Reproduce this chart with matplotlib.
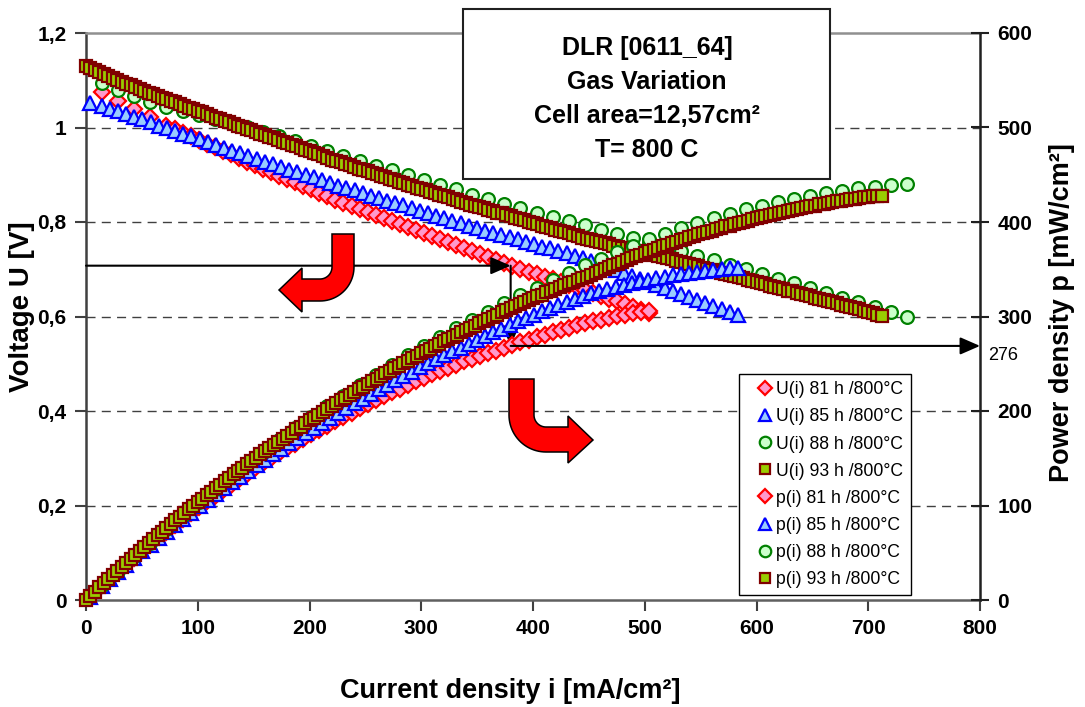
import numpy as np
import matplotlib
matplotlib.use("Agg")
import matplotlib.pyplot as plt
from matplotlib.path import Path
from matplotlib.patches import PathPatch, Rectangle
from matplotlib.ticker import FuncFormatter

plt.rcParams['font.family'] = ['Liberation Sans', 'DejaVu Sans']

# ---------------------------------------------------------------- data
# current density [mA/cm2] and cell voltage [V] of each polarisation curve
i_81h = [14.4, 28.8, 43.2, 57.6, 72.0, 79.2, 86.4, 93.6, 100.8, 108.0, 115.2, 122.4,
         129.6, 136.8, 144.0, 151.2, 158.4, 165.6, 172.8, 180.0, 187.2, 194.4, 201.6,
         208.8, 216.0, 223.2, 230.4, 237.6, 244.8, 252.0, 259.2, 266.4, 273.6, 280.8,
         288.0, 295.2, 302.4, 309.6, 316.8, 324.0, 331.2, 338.4, 345.6, 352.8, 360.0,
         367.2, 374.4, 381.6, 388.8, 396.0, 403.2, 410.4, 417.6, 424.8, 432.0, 439.2,
         446.4, 453.6, 460.8, 468.0, 475.2, 482.4, 489.6, 496.8, 504.0]
u_81h = [1.075, 1.056, 1.039, 1.022, 1.003, 0.996, 0.988, 0.981, 0.973, 0.966, 0.958, 0.951,
         0.943, 0.936, 0.928, 0.921, 0.913, 0.906, 0.898, 0.891, 0.884, 0.876, 0.869,
         0.861, 0.854, 0.847, 0.841, 0.834, 0.828, 0.822, 0.815, 0.809, 0.803, 0.796,
         0.790, 0.784, 0.777, 0.771, 0.765, 0.758, 0.752, 0.746, 0.739, 0.733, 0.726,
         0.719, 0.713, 0.706, 0.701, 0.695, 0.690, 0.684, 0.679, 0.673, 0.667, 0.662,
         0.656, 0.650, 0.644, 0.638, 0.632, 0.626, 0.620, 0.613, 0.607]

i_85h = [3.5, 14.0, 21.3, 28.6, 35.9, 43.2, 50.5, 57.8, 65.1, 72.4, 79.7, 87.0, 94.3,
         101.6, 108.9, 116.2, 123.5, 130.8, 138.1, 145.4, 152.7, 160.0, 167.3, 174.6,
         181.9, 189.2, 196.5, 203.8, 211.1, 218.4, 225.7, 233.0, 240.3, 247.6, 254.9,
         262.2, 269.5, 276.8, 284.1, 291.4, 298.7, 306.0, 313.3, 320.6, 327.9, 335.2,
         342.5, 349.8, 357.1, 364.4, 371.7, 379.0, 386.3, 393.6, 400.9, 408.2, 415.5,
         422.8, 430.1, 437.4, 444.7, 452.0, 459.3, 466.6, 473.9, 481.2, 488.5, 495.8,
         503.1, 510.4, 517.7, 525.0, 532.3, 539.6, 546.9, 554.2, 561.5, 568.8, 576.1,
         583.4]
u_85h = [1.051, 1.045, 1.040, 1.034, 1.028, 1.023, 1.017, 1.011, 1.004, 0.998, 0.993, 0.986,
         0.981, 0.975, 0.969, 0.963, 0.957, 0.951, 0.945, 0.939, 0.934, 0.928, 0.922,
         0.917, 0.911, 0.906, 0.900, 0.895, 0.889, 0.883, 0.877, 0.872, 0.867, 0.861,
         0.856, 0.851, 0.845, 0.840, 0.835, 0.829, 0.824, 0.819, 0.813, 0.808, 0.803,
         0.797, 0.792, 0.787, 0.782, 0.777, 0.772, 0.768, 0.763, 0.758, 0.753, 0.748,
         0.744, 0.739, 0.734, 0.729, 0.724, 0.718, 0.712, 0.705, 0.699, 0.692, 0.686,
         0.680, 0.674, 0.667, 0.661, 0.655, 0.648, 0.642, 0.635, 0.629, 0.622, 0.616,
         0.609, 0.603]

i_88h = [14.4, 28.8, 43.2, 57.6, 72.0, 86.4, 100.8, 115.2, 129.6, 144.0, 158.4, 172.8,
         187.2, 201.6, 216.0, 230.4, 244.8, 259.2, 273.6, 288.0, 302.4, 316.8, 331.2,
         345.6, 360.0, 374.4, 388.8, 403.2, 417.6, 432.0, 446.4, 460.8, 475.2, 489.6,
         504.0, 518.4, 532.8, 547.2, 561.6, 576.0, 590.4, 604.8, 619.2, 633.6, 648.0,
         662.4, 676.8, 691.2, 705.6, 720.0, 734.4]
u_88h = [1.094, 1.079, 1.066, 1.053, 1.044, 1.035, 1.026, 1.018, 1.009, 1.001, 0.991, 0.981,
         0.971, 0.961, 0.950, 0.939, 0.929, 0.919, 0.909, 0.899, 0.889, 0.879, 0.869,
         0.858, 0.848, 0.839, 0.829, 0.820, 0.811, 0.802, 0.793, 0.784, 0.775, 0.766,
         0.757, 0.748, 0.738, 0.729, 0.720, 0.710, 0.700, 0.690, 0.680, 0.670, 0.660,
         0.650, 0.640, 0.630, 0.620, 0.610, 0.600]

# 93 h curve: current steps of 4 mA/cm2 from 0 to 712 mA/cm2
i_93h = list(range(0, 713, 4))
u_93h = [1.130, 1.126, 1.121, 1.117, 1.113, 1.108, 1.104, 1.100, 1.096, 1.093,
         1.089, 1.085, 1.081, 1.078, 1.074, 1.071, 1.067, 1.063, 1.060, 1.056,
         1.053, 1.049, 1.046, 1.042, 1.039, 1.035, 1.032, 1.028, 1.025, 1.021,
         1.018, 1.014, 1.011, 1.007, 1.004, 1.001, 0.997, 0.994, 0.990, 0.987,
         0.984, 0.980, 0.977, 0.974, 0.970, 0.967, 0.963, 0.960, 0.956, 0.953,
         0.950, 0.946, 0.943, 0.939, 0.936, 0.932, 0.929, 0.926, 0.923, 0.920,
         0.917, 0.913, 0.910, 0.907, 0.904, 0.901, 0.898, 0.895, 0.892, 0.889,
         0.885, 0.882, 0.879, 0.876, 0.873, 0.870, 0.867, 0.864, 0.861, 0.858,
         0.855, 0.852, 0.849, 0.846, 0.843, 0.840, 0.837, 0.834, 0.832, 0.829,
         0.826, 0.823, 0.820, 0.818, 0.815, 0.812, 0.809, 0.806, 0.804, 0.801,
         0.798, 0.795, 0.792, 0.790, 0.787, 0.784, 0.781, 0.778, 0.776, 0.773,
         0.770, 0.767, 0.764, 0.762, 0.760, 0.757, 0.755, 0.753, 0.750, 0.748,
         0.746, 0.744, 0.741, 0.739, 0.737, 0.735, 0.732, 0.730, 0.728, 0.725,
         0.723, 0.721, 0.718, 0.716, 0.713, 0.711, 0.708, 0.706, 0.703, 0.701,
         0.698, 0.696, 0.693, 0.691, 0.688, 0.686, 0.683, 0.681, 0.678, 0.676,
         0.673, 0.671, 0.668, 0.665, 0.663, 0.660, 0.658, 0.655, 0.653, 0.650,
         0.648, 0.645, 0.643, 0.640, 0.638, 0.635, 0.633, 0.630, 0.628, 0.625,
         0.622, 0.620, 0.617, 0.615, 0.612, 0.609, 0.607, 0.604, 0.601]

hours = ["81", "85", "88", "93"]
x_ticks = [0, 100, 200, 300, 400, 500, 600, 700, 800]
u_ticks = [0, 0.2, 0.4, 0.6, 0.8, 1.0, 1.2]
p_ticks = [0, 100, 200, 300, 400, 500, 600]

title_lines = ["DLR [0611_64]", "Gas Variation", "Cell area=12,57cm²", "T= 800 C"]
marked_current = 380        # operating point highlighted by the arrows
marked_power_label = "276"

# ---------------------------------------------------------------- figure
W, H = 1085, 707
fig = plt.figure(figsize=(W / 100, H / 100), dpi=100)
ax = fig.add_axes([86 / W, 1 - 600 / H, (980 - 86) / W, (600 - 33) / H])
ax2 = ax.twinx()

series = [
    (i_81h, u_81h, dict(marker='D', ms=8.0, mfc='#FF99CC', mec='#FF0000')),
    (i_85h, u_85h, dict(marker='^', ms=9.4, mfc='#99CCFF', mec='#0000FF')),
    (i_88h, u_88h, dict(marker='o', ms=9.2, mfc='#CCFFCC', mec='#008000')),
    (i_93h, u_93h, dict(marker='s', ms=8.6, mfc='#99CC00', mec='#800000')),
]

u_handles, p_handles = [], []
for cur, volt, style in series:
    cur = np.asarray(cur, float)
    volt = np.asarray(volt, float)
    h, = ax.plot(cur, volt, ls='none', mew=1.6, clip_on=False, zorder=3, **style)
    u_handles.append(h)
for cur, volt, style in series:
    cur = np.asarray(cur, float)
    volt = np.asarray(volt, float)
    power = cur * volt            # p = U * i  [mW/cm2]
    h, = ax2.plot(cur, power, ls='none', mew=1.6, clip_on=False, zorder=3, **style)
    p_handles.append(h)

ax.set_xlim(0, 800)
ax.set_ylim(0, 1.2)
ax2.set_ylim(0, 600)
ax.set_xticks(x_ticks)
ax.set_yticks(u_ticks)
ax2.set_yticks(p_ticks)
ax.yaxis.set_major_formatter(FuncFormatter(lambda v, _: f"{v:g}".replace('.', ',')))

for v in u_ticks[1:-1]:
    ax.axhline(v, color='#404040', lw=1.0, dashes=(6.5, 4.5), zorder=1)

ax.tick_params(axis='x', direction='out', length=8, width=1.5, color='#404040', pad=6)
ax.tick_params(axis='y', direction='out', length=8, width=1.5, color='#404040', pad=6)
ax2.tick_params(axis='y', direction='inout', length=13, width=1.5, color='#202020', pad=6)
for lab in ax.get_xticklabels() + ax.get_yticklabels() + ax2.get_yticklabels():
    lab.set_fontsize(15)
    lab.set_fontweight('bold')

for name, sp in ax.spines.items():
    sp.set_linewidth(1.8)
ax.spines['left'].set_color('#404040')
ax.spines['bottom'].set_color('#606060')
ax.spines['top'].set_color('#909090')
ax.spines['right'].set_visible(False)
for name in ['left', 'top', 'bottom']:
    ax2.spines[name].set_visible(False)
ax2.spines['right'].set_color('#202020')
ax2.spines['right'].set_linewidth(1.8)

fig.text(510 / W, 1 - 691 / H, "Current density i [mA/cm²]", ha='center', va='center',
         fontsize=19.5, fontweight='bold')
fig.text(22 / W, 1 - 307 / H, "Voltage U [V]", ha='center', va='center', rotation=90,
         fontsize=20, fontweight='bold')
fig.text(1062 / W, 1 - 313 / H, "Power density p [mW/cm²]", ha='center', va='center',
         rotation=90, fontsize=19.5, fontweight='bold')

# legend
labels = [f"U(i) {h} h /800°C" for h in hours] + [f"p(i) {h} h /800°C" for h in hours]
leg = ax2.legend(u_handles + p_handles, labels, loc='upper left',
                 bbox_to_anchor=((739 - 86) / 894, (600 - 374) / 567), borderaxespad=0,
                 fontsize=12.7, frameon=True, fancybox=False, framealpha=1,
                 edgecolor='black', handlelength=2.1, handletextpad=-0.4,
                 borderpad=0.42, labelspacing=0.57, markerscale=0.9)
leg.get_frame().set_linewidth(1.0)
leg.set_zorder(10)

# info box
box = Rectangle((463 / W, 1 - 179 / H), (830 - 463) / W, (179 - 9) / H,
                transform=fig.transFigure, facecolor='white', edgecolor='#202020', lw=1.5,
                zorder=5)
fig.add_artist(box)
for k, line in enumerate(title_lines):
    fig.text(647 / W, 1 - (55 + 33.9 * k) / H, line, ha='center', va='baseline',
             fontsize=18, fontweight='bold', zorder=6)

# arrows from the voltage curve to the power curve of the 81 h measurement
u_mark = float(np.interp(marked_current, i_81h, u_81h))
p_mark = marked_current * u_mark
arrow = dict(arrowstyle='-|>,head_length=0.55,head_width=0.24', color='black', lw=1.5,
             shrinkA=0, shrinkB=0, mutation_scale=22)
ax.annotate("", xy=(marked_current, u_mark), xytext=(0, u_mark), arrowprops=arrow,
            annotation_clip=False, zorder=8)
ax.annotate("", xy=(marked_current, p_mark), xycoords=ax2.transData,
            xytext=(marked_current, u_mark), textcoords=ax.transData, arrowprops=arrow,
            annotation_clip=False, zorder=8)
ax2.annotate("", xy=(800, p_mark), xytext=(marked_current, p_mark), arrowprops=arrow,
             annotation_clip=False, zorder=8)
fig.text(988 / W, 1 - 360 / H, marked_power_label, ha='left', va='baseline', fontsize=13)


# bent red arrows (built in figure pixels, y pointing down)
def to_fig(pts):
    pts = np.asarray(pts, float)
    return np.column_stack([pts[:, 0] / W, 1 - pts[:, 1] / H])


def arc(cx, cy, r, t0, t1, n=24):
    t = np.linspace(t0, t1, n)
    return list(zip(cx + r * np.cos(t), cy + r * np.sin(t)))


def bent_arrow(pts):
    verts = to_fig(pts + [pts[0]])
    codes = [Path.MOVETO] + [Path.LINETO] * (len(verts) - 2) + [Path.CLOSEPOLY]
    patch = PathPatch(Path(verts, codes), transform=fig.transFigure,
                      facecolor='#FF0000', edgecolor='black', lw=1.1, zorder=7)
    fig.add_artist(patch)


left_turn = ([(332, 234), (354, 234), (354, 267)]
             + arc(320, 267, 34, 0, np.pi / 2)
             + [(302, 301), (302, 312), (279, 290), (302, 268), (302, 279)]
             + arc(320, 267, 12, np.pi / 2, 0))
bent_arrow(left_turn)

right_turn = ([(509, 379), (534, 379), (534, 415)]
              + arc(546, 415, 12, np.pi, np.pi / 2)
              + [(568, 427), (568, 416), (593, 440), (568, 463), (568, 452)]
              + arc(546, 415, 37, np.pi / 2, np.pi))
bent_arrow(right_turn)

fig.savefig("out.png", dpi=100)
